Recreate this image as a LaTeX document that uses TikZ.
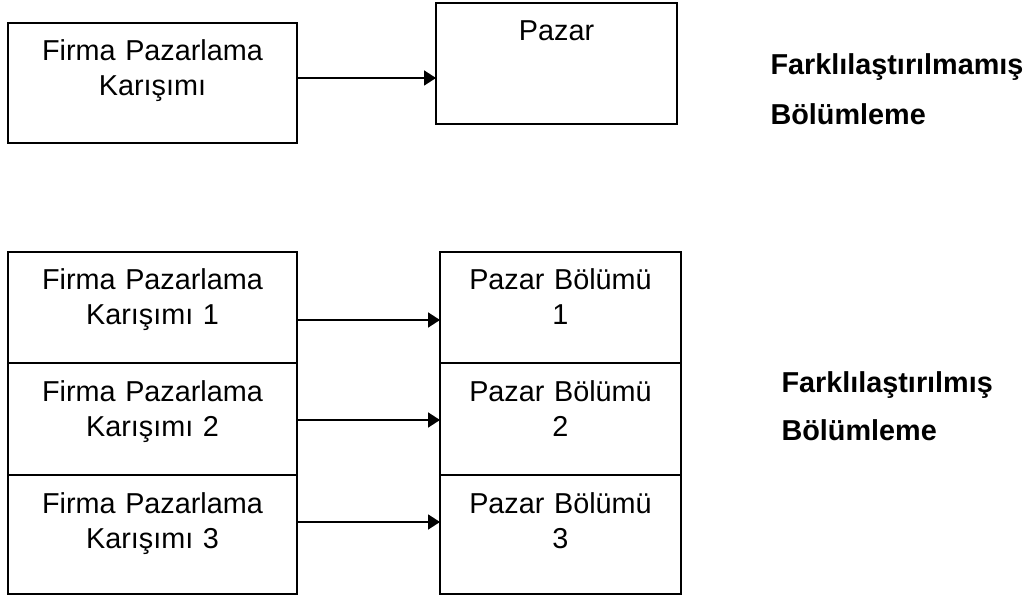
\documentclass[tikz,border=0pt]{standalone}
\usepackage{fontspec}
\setmainfont{Liberation Sans}
\usepackage{tikz}
\usetikzlibrary{arrows.meta, positioning}

\begin{document}
\begin{tikzpicture}[x=1pt, y=1pt, font=\fontsize{28.8}{35}\selectfont,
    mixbox/.style={draw, rectangle, line width=1.8pt, inner sep=0pt, outer sep=0pt, text width=289pt, align=center, text height=38pt},
    segbox/.style={draw, rectangle, line width=1.8pt, inner sep=0pt, outer sep=0pt, text width=241pt, align=center, text height=38pt},
    flow/.style={-{Triangle[length=12pt, width=15pt]}, line width=1.8pt}]

    \useasboundingbox (0,0) rectangle (1029,-596);

    % Nodes for the undifferentiated case: one mix, one market
    \node (mix) [mixbox, text depth=82pt, anchor=north west] at (8,-23) {Firma Pazarlama\\Karışımı};
    \node (market) [segbox, text depth=83pt, anchor=north west] at (436,-3) {Pazar};
    \node (undiff) [anchor=base west, text width=262pt, align=left, font=\fontsize{28.8}{50}\selectfont\bfseries] at (767,-75) {Farklılaştırılmamış\\Bölümleme};

    % Nodes for the differentiated case, stacked with no gap
    \node (mixA) [mixbox, text depth=73pt, anchor=north west] at (8,-252) {Firma Pazarlama\\Karışımı 1};
    \node (mixB) [mixbox, text depth=74pt, below=0pt of mixA] {Firma Pazarlama\\Karışımı 2};
    \node (mixC) [mixbox, text depth=81pt, below=0pt of mixB] {Firma Pazarlama\\Karışımı 3};
    \node (segA) [segbox, text depth=73pt, anchor=north west] at (440,-252) {Pazar Bölümü\\1};
    \node (segB) [segbox, text depth=74pt, below=0pt of segA] {Pazar Bölümü\\2};
    \node (segC) [segbox, text depth=81pt, below=0pt of segB] {Pazar Bölümü\\3};
    \node (diff) [anchor=base west, text width=240pt, align=left, font=\fontsize{28.8}{48}\selectfont\bfseries] at (778,-392) {Farklılaştırılmış\\Bölümleme};

    % Draw arrows from each mix to its market
    \draw[flow] ([yshift=5]mix.east) -- ([yshift=-14.5]market.west);
    \draw[flow] ([yshift=-12.5]mixA.east) -- ([yshift=-12.5]segA.west);
    \draw[flow] ([yshift=-1]mixB.east) -- ([yshift=-1]segB.west);
    \draw[flow] ([yshift=12.5]mixC.east) -- ([yshift=12.5]segC.west);

\end{tikzpicture}
\end{document}
